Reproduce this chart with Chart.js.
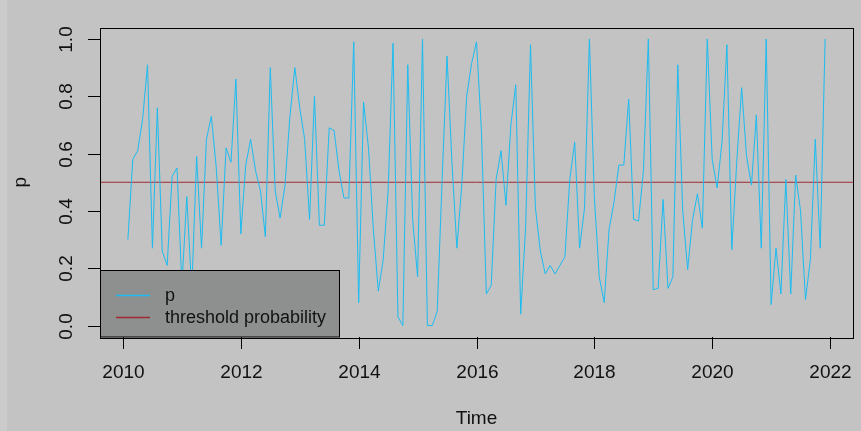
<!DOCTYPE html>
<html>
<head>
<meta charset="utf-8">
<script src="https://cdn.jsdelivr.net/npm/chart.js@4"></script>
<style>
  html, body { margin: 0; padding: 0; background: #c2c3c2; }
  #wrap { width: 861px; height: 431px; }
</style>
</head>
<body>
<div id="wrap"><canvas id="chart" width="861" height="431"></canvas></div>
<script>
// monthly series, starts Feb 2010
const startYear = 2010
const startMonth = 2

const p = [
  0.30, 0.58, 0.61, 0.72, 0.91, 0.27, 0.76, 0.26, 0.21, 0.52, 0.55,
  0.14, 0.45, 0.12, 0.59, 0.27, 0.65, 0.73, 0.55, 0.28, 0.62, 0.57, 0.86,
  0.32, 0.56, 0.65, 0.54, 0.47, 0.31, 0.90, 0.47, 0.375, 0.49, 0.73, 0.90,
  0.76, 0.65, 0.37, 0.80, 0.35, 0.35, 0.69, 0.68, 0.54, 0.445, 0.445, 0.99,
  0.08, 0.78, 0.62, 0.335, 0.12, 0.23, 0.47, 0.985, 0.03, 0.00, 0.91, 0.37,
  0.17, 1.00, 0.00, 0.00, 0.05, 0.51, 0.94, 0.57, 0.27, 0.49, 0.80, 0.915,
  0.99, 0.68, 0.11, 0.14, 0.51, 0.61, 0.42, 0.70, 0.84, 0.04, 0.34, 0.98,
  0.41, 0.26, 0.18, 0.21, 0.18, 0.21, 0.24, 0.51, 0.64, 0.27, 0.41, 1.00,
  0.45, 0.17, 0.08, 0.335, 0.43, 0.56, 0.56, 0.79, 0.37, 0.365, 0.54, 1.00,
  0.125, 0.13, 0.44, 0.13, 0.17, 0.91, 0.40, 0.195, 0.37, 0.46, 0.34, 1.00,
  0.58, 0.48, 0.64, 0.98, 0.265, 0.57, 0.83, 0.59, 0.49, 0.735, 0.27, 1.00,
  0.073, 0.27, 0.11, 0.51, 0.11, 0.525, 0.40, 0.09, 0.23, 0.65, 0.27, 1.00
]
const threshold = 0.5

const xTicks = [2010, 2012, 2014, 2016, 2018, 2020, 2022]
const yTicks = [0, 0.2, 0.4, 0.6, 0.8, 1.0]
const yTickLabels = ["0.0", "0.2", "0.4", "0.6", "0.8", "1.0"]
const legendLabels = ["p", "threshold probability"]

const pColor = "#1cbcf2"
const thresholdColor = "#a02a30"

const time = p.map((_, i) => startYear + (startMonth - 1 + i) / 12)

// R style 4% range extension
const xSpan = time[time.length - 1] - time[0]
const xMin = time[0] - 0.04 * xSpan
const xMax = time[time.length - 1] + 0.04 * xSpan

const font = '"Liberation Sans", Arial, sans-serif'

const rAxes = {
  id: "rAxes",
  beforeDraw(chart) {
    const { ctx } = chart
    ctx.save()
    ctx.fillStyle = "#c2c3c2"
    ctx.fillRect(0, 0, chart.width, chart.height)
    ctx.fillStyle = "#cacbca"
    ctx.fillRect(0, 0, 7, chart.height)
    ctx.restore()
  },
  afterDatasetsDraw(chart) {
    const { ctx, chartArea: a, scales } = chart
    const xs = scales.x
    const ys = scales.y
    ctx.save()

    // legend, bottom left
    const lx = a.left, ly = 270.5, lw = 239, lh = a.bottom - 270.5
    ctx.fillStyle = "#8e8f8f"
    ctx.fillRect(lx, ly, lw, lh)
    ctx.strokeStyle = "#000"
    ctx.lineWidth = 1
    ctx.strokeRect(lx + 0.5, ly, lw, lh)
    ctx.font = "18px " + font
    ctx.textBaseline = "middle"
    ctx.textAlign = "left"
    const keyColors = [pColor, thresholdColor]
    legendLabels.forEach((label, i) => {
      const y = 295 + i * 22
      ctx.strokeStyle = keyColors[i]
      ctx.lineWidth = 1.3
      ctx.beginPath()
      ctx.moveTo(116, y + 0.5)
      ctx.lineTo(150, y + 0.5)
      ctx.stroke()
      ctx.fillStyle = "#111"
      ctx.fillText(label, 165, y + 1)
    })

    // box
    ctx.lineWidth = 1
    ctx.strokeStyle = "#000"
    ctx.strokeRect(Math.round(a.left) + 0.5, Math.round(a.top) + 0.5,
      Math.round(a.right - a.left), Math.round(a.bottom - a.top))

    // x axis
    ctx.fillStyle = "#111"
    ctx.font = "19px " + font
    ctx.textAlign = "center"
    ctx.textBaseline = "middle"
    xTicks.forEach(t => {
      const x = Math.round(xs.getPixelForValue(t)) + 0.5
      ctx.beginPath()
      ctx.moveTo(x, a.bottom)
      ctx.lineTo(x, a.bottom + 12)
      ctx.stroke()
      ctx.fillText(String(t), x, 373)
    })
    ctx.fillText("Time", (a.left + a.right) / 2, 419)

    // y axis, labels parallel to axis
    yTicks.forEach((t, i) => {
      const y = Math.round(ys.getPixelForValue(t)) + 0.5
      ctx.beginPath()
      ctx.moveTo(a.left, y)
      ctx.lineTo(a.left - 12, y)
      ctx.stroke()
      ctx.save()
      ctx.translate(67, y)
      ctx.rotate(-Math.PI / 2)
      ctx.fillText(yTickLabels[i], 0, 0)
      ctx.restore()
    })
    ctx.save()
    ctx.translate(21, (a.top + a.bottom) / 2)
    ctx.rotate(-Math.PI / 2)
    ctx.fillText("p", 0, 0)
    ctx.restore()

    ctx.restore()
  }
}

new Chart(document.getElementById("chart"), {
  type: "line",
  data: {
    datasets: [
      {
        label: legendLabels[0],
        data: p.map((v, i) => ({ x: time[i], y: v })),
        borderColor: pColor,
        borderWidth: 1,
        pointRadius: 0,
        tension: 0
      },
      {
        label: legendLabels[1],
        data: [{ x: xMin, y: threshold }, { x: xMax, y: threshold }],
        borderColor: thresholdColor,
        borderWidth: 1,
        pointRadius: 0
      }
    ]
  },
  options: {
    responsive: false,
    animation: false,
    devicePixelRatio: 1,
    layout: { padding: { left: 100, right: 8, top: 27.5, bottom: 94 } },
    plugins: { legend: { display: false }, tooltip: { enabled: false } },
    scales: {
      x: { type: "linear", min: xMin, max: xMax, display: false },
      y: { min: -0.04, max: 1.04, display: false }
    }
  },
  plugins: [rAxes]
})
</script>
</body>
</html>
